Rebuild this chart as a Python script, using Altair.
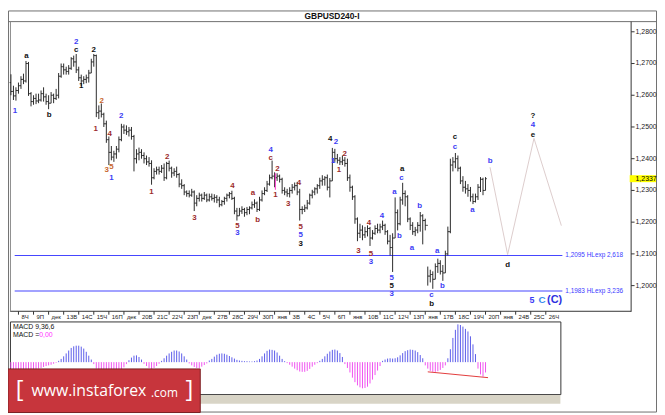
import altair as alt
import pandas as pd

W, H = 657, 407
SX, SY = W / 665.0, H / 415.0


def X(v):
    return round(v * SX, 2)


def Y(v):
    return round(v * SY, 2)


# ---------------- data ----------------
highs = [1.2666, 1.2630, 1.2625, 1.2640, 1.2660, 1.2668, 1.2708, 1.2705, 1.2610, 1.2600,
         1.2605, 1.2605, 1.2615, 1.2625, 1.2605, 1.2600, 1.2610, 1.2605, 1.2620, 1.2670,
         1.2700, 1.2700, 1.2690, 1.2695, 1.2720, 1.2725, 1.2730, 1.2690, 1.2665, 1.2660,
         1.2665, 1.2680, 1.2715, 1.2730, 1.2728, 1.2568, 1.2574, 1.2545, 1.2520, 1.2470,
         1.2440, 1.2425, 1.2440, 1.2470, 1.2510, 1.2508, 1.2505, 1.2500, 1.2500, 1.2475,
         1.2430, 1.2435, 1.2430, 1.2420, 1.2410, 1.2405, 1.2395, 1.2370, 1.2375, 1.2375,
         1.2380, 1.2385, 1.2390, 1.2394, 1.2375, 1.2370, 1.2375, 1.2355, 1.2335, 1.2320,
         1.2300, 1.2300, 1.2305, 1.2300, 1.2285, 1.2293, 1.2290, 1.2295, 1.2290, 1.2290,
         1.2290, 1.2288, 1.2285, 1.2280, 1.2270, 1.2280, 1.2290, 1.2295, 1.2299, 1.2280,
         1.2245, 1.2245, 1.2250, 1.2245, 1.2248, 1.2250, 1.2265, 1.2272, 1.2265, 1.2280,
         1.2300, 1.2310, 1.2330, 1.2350, 1.2394, 1.2357, 1.2354, 1.2350, 1.2340, 1.2310,
         1.2305, 1.2310, 1.2320, 1.2325, 1.2327, 1.2305, 1.2250, 1.2255, 1.2270, 1.2290,
         1.2302, 1.2310, 1.2320, 1.2340, 1.2348, 1.2345, 1.2350, 1.2339, 1.2434, 1.2431,
         1.2415, 1.2405, 1.2410, 1.2405, 1.2400, 1.2350, 1.2315, 1.2285, 1.2215, 1.2195,
         1.2190, 1.2185, 1.2190, 1.2185, 1.2175, 1.2190, 1.2195, 1.2195, 1.2205, 1.2195,
         1.2175, 1.2160, 1.2165, 1.2278, 1.2240, 1.2280, 1.2324, 1.2300, 1.2285, 1.2215,
         1.2200, 1.2185, 1.2200, 1.2232, 1.2225, 1.2211, 1.2060, 1.2050, 1.2045, 1.2070,
         1.2085, 1.2080, 1.2065, 1.2110, 1.2186, 1.2400, 1.2405, 1.2418, 1.2410, 1.2375,
         1.2345, 1.2330, 1.2320, 1.2311, 1.2290, 1.2290, 1.2320, 1.2342, 1.2340, 1.2342]
lows = [1.2600, 1.2585, 1.2583, 1.2605, 1.2620, 1.2635, 1.2640, 1.2598, 1.2565, 1.2570,
        1.2572, 1.2575, 1.2580, 1.2580, 1.2570, 1.2556, 1.2575, 1.2575, 1.2585, 1.2590,
        1.2655, 1.2665, 1.2665, 1.2665, 1.2680, 1.2690, 1.2670, 1.2645, 1.2629, 1.2635,
        1.2638, 1.2640, 1.2670, 1.2690, 1.2531, 1.2525, 1.2530, 1.2500, 1.2450, 1.2380,
        1.2395, 1.2390, 1.2400, 1.2420, 1.2455, 1.2478, 1.2475, 1.2470, 1.2460, 1.2360,
        1.2385, 1.2395, 1.2400, 1.2385, 1.2380, 1.2375, 1.2318, 1.2335, 1.2350, 1.2350,
        1.2355, 1.2330, 1.2335, 1.2360, 1.2340, 1.2345, 1.2340, 1.2310, 1.2305, 1.2285,
        1.2280, 1.2278, 1.2280, 1.2235, 1.2250, 1.2265, 1.2265, 1.2270, 1.2263, 1.2265,
        1.2268, 1.2262, 1.2260, 1.2247, 1.2250, 1.2255, 1.2265, 1.2275, 1.2270, 1.2225,
        1.2205, 1.2220, 1.2226, 1.2217, 1.2222, 1.2225, 1.2240, 1.2245, 1.2232, 1.2235,
        1.2265, 1.2285, 1.2295, 1.2315, 1.2335, 1.2310, 1.2330, 1.2325, 1.2290, 1.2285,
        1.2280, 1.2278, 1.2290, 1.2300, 1.2285, 1.2205, 1.2225, 1.2232, 1.2240, 1.2255,
        1.2275, 1.2285, 1.2290, 1.2305, 1.2315, 1.2315, 1.2300, 1.2278, 1.2330, 1.2390,
        1.2385, 1.2380, 1.2380, 1.2375, 1.2330, 1.2296, 1.2270, 1.2195, 1.2140, 1.2150,
        1.2143, 1.2150, 1.2155, 1.2125, 1.2145, 1.2160, 1.2165, 1.2165, 1.2175, 1.2160,
        1.2130, 1.2095, 1.2043, 1.2150, 1.2174, 1.2190, 1.2255, 1.2250, 1.2200, 1.2175,
        1.2160, 1.2156, 1.2165, 1.2170, 1.2130, 1.2174, 1.2000, 1.2010, 1.1990, 1.2020,
        1.2040, 1.2035, 1.2015, 1.2040, 1.2095, 1.2165, 1.2360, 1.2370, 1.2360, 1.2320,
        1.2296, 1.2290, 1.2280, 1.2265, 1.2257, 1.2262, 1.2270, 1.2295, 1.2285, 1.2300]
closes = [1.2612, 1.2598, 1.2615, 1.2630, 1.2650, 1.2645, 1.2700, 1.2605, 1.2580, 1.2590,
          1.2582, 1.2585, 1.2605, 1.2595, 1.2580, 1.2575, 1.2600, 1.2590, 1.2600, 1.2660,
          1.2690, 1.2680, 1.2675, 1.2685, 1.2715, 1.2705, 1.2680, 1.2655, 1.2645, 1.2650,
          1.2655, 1.2670, 1.2705, 1.2725, 1.2545, 1.2550, 1.2540, 1.2510, 1.2460, 1.2420,
          1.2405, 1.2415, 1.2430, 1.2460, 1.2500, 1.2490, 1.2485, 1.2490, 1.2470, 1.2400,
          1.2415, 1.2420, 1.2410, 1.2400, 1.2390, 1.2385, 1.2340, 1.2360, 1.2365, 1.2360,
          1.2370, 1.2340, 1.2385, 1.2370, 1.2355, 1.2360, 1.2350, 1.2320, 1.2315, 1.2295,
          1.2290, 1.2285, 1.2295, 1.2260, 1.2275, 1.2285, 1.2275, 1.2285, 1.2270, 1.2280,
          1.2275, 1.2278, 1.2270, 1.2255, 1.2265, 1.2275, 1.2285, 1.2290, 1.2275, 1.2235,
          1.2220, 1.2235, 1.2240, 1.2230, 1.2240, 1.2245, 1.2255, 1.2260, 1.2240, 1.2270,
          1.2290, 1.2300, 1.2320, 1.2340, 1.2345, 1.2340, 1.2345, 1.2335, 1.2300, 1.2295,
          1.2290, 1.2300, 1.2310, 1.2315, 1.2295, 1.2240, 1.2240, 1.2245, 1.2260, 1.2285,
          1.2295, 1.2305, 1.2315, 1.2330, 1.2335, 1.2340, 1.2310, 1.2330, 1.2420, 1.2400,
          1.2395, 1.2390, 1.2395, 1.2385, 1.2340, 1.2310, 1.2280, 1.2210, 1.2165, 1.2175,
          1.2160, 1.2170, 1.2180, 1.2150, 1.2165, 1.2180, 1.2175, 1.2185, 1.2190, 1.2170,
          1.2140, 1.2120, 1.2150, 1.2230, 1.2195, 1.2270, 1.2290, 1.2280, 1.2210, 1.2190,
          1.2170, 1.2175, 1.2190, 1.2220, 1.2205, 1.2190, 1.2030, 1.2035, 1.2020, 1.2060,
          1.2070, 1.2045, 1.2040, 1.2100, 1.2170, 1.2380, 1.2390, 1.2400, 1.2370, 1.2330,
          1.2310, 1.2305, 1.2300, 1.2280, 1.2265, 1.2280, 1.2310, 1.2335, 1.2300, 1.2337]
first_open = 1.2640

macd = [-20, -22, -25, -27, -28, -28, -27, -25, -23, -22, -21, -20, -18, -15, -12, -10, -8, -5, -2,
        4, 10, 18, 27, 36, 44, 49, 51, 51, 48, 42, 32, 20, 8,
        -6, -20, -38, -52, -62, -68, -70, -68, -62, -52, -40, -28, -16, -6,
        6, 14, 20, 21, 16, 8,
        -5, -12, -18, -21, -18, -12, -5,
        4, 12, 20, 27, 32, 36, 36, 33, 27, 18, 8,
        -4, -10, -15, -18, -18, -14, -9, -4,
        5, 10, 17, 23, 26, 27, 26, 23, 19, 15, 11, 7,
        5, 4, 3, 3, 2, 2, 3, 5,
        10, 18, 27, 35, 39, 38, 36, 30, 20, 10, 3,
        -3, -8, -14, -20, -25, -29, -30, -30, -27, -21, -14, -8, -3,
        4, 10, 18, 26, 33, 38, 39, 36, 28, 16,
        -6, -18, -32, -48, -62, -72, -78, -81, -80, -76, -66, -54, -40, -26, -12,
        4, 8, 11, 12, 11, 12, 15, 21, 28, 34, 37, 39, 38, 36, 31, 22, 12,
        -10, -20, -27, -30, -30, -28, -24, -18, -10,
        12, 40, 75, 100, 117, 115, 110, 103, 95, 80, 55, 25,
        -20, -38, -45, -32]

price_ticks = [1.2800, 1.2700, 1.2600, 1.2500, 1.2400, 1.2300, 1.2200, 1.2100, 1.2000]
day_labels = ["8Ч", "9П", "дек", "13В", "14С", "15Ч", "16П", "дек", "20В", "21С", "22Ч", "23П",
              "дек", "27В", "28С", "29Ч", "30П", "янв", "3В", "4С", "5Ч", "6П", "янв", "10В",
              "11С", "12Ч", "13П", "янв", "17В", "18С", "19Ч", "20П", "янв", "24В", "25С", "26Ч"]
first_day_bar = 3
bars_per_day = 6

levels = [1.2095, 1.1983]
level_texts = ["1,2095 HLexp 2,618", "1,1983 HLexp 3,236"]
level_from_bar, level_to_bar = 1.5, 219.6

proj_bar = [190.8, 197.8, 208.3, 219.2]
proj_price = [1.2373, 1.2098, 1.2464, 1.2189]
last_price = 1.2337

div_bar = [166, 190]
div_macd = [-30, -48]
pink_bar, pink_lo, pink_hi = 105.3, 1.2302, 1.2354

BLUE, RED, ORG, BLK = "#3c3cf5", "#9c2b2b", "#c8662e", "#111111"
wave_bar = [1.6, 6.2, 15.2, 26.0, 26.0, 28.0, 33.0, 36.1, 33.8, 39.3, 38.1, 40.0, 40.0, 43.9,
            56.0, 62.2, 73.1, 88.2, 90.2, 90.2, 96.4, 98.3, 103.4, 103.4, 106.1, 105.3, 110.4,
            114.7, 115.4, 115.4, 115.4, 127.1, 129.4, 128.3, 132.9, 130.6, 138.4, 142.6, 143.4,
            143.4, 147.7, 151.6, 151.6, 151.6, 152.7, 154.7, 155.5, 155.8, 159.7, 162.8, 167.5,
            167.5, 169.8, 171.8, 176.8, 176.8, 183.8, 190.8, 197.8, 207.9, 207.9, 207.9]
wave_price = [1.2550, 1.2724, 1.2537, 1.2769, 1.2742, 1.2629, 1.2742, 1.2583, 1.2495, 1.2479,
              1.2363, 1.2373, 1.2339, 1.2534, 1.2296, 1.2406, 1.2214, 1.2315, 1.2189, 1.2165,
              1.2293, 1.2208, 1.2403, 1.2427, 1.2369, 1.2284, 1.2257, 1.2324, 1.2186, 1.2159,
              1.2131, 1.2461, 1.2452, 1.2394, 1.2415, 1.2363, 1.2110, 1.2198, 1.2098, 1.2073,
              1.2220, 1.2024, 1.2000, 1.1973, 1.2296, 1.2156, 1.2339, 1.2369, 1.2119, 1.2250,
              1.1969, 1.1942, 1.2110, 1.2000, 1.2437, 1.2467, 1.2238, 1.2394, 1.2064, 1.2476,
              1.2507, 1.2534]
wave_text = ["1", "a", "b", "2", "c", "1", "2", "2", "1", "4", "3", "5", "1", "2",
             "1", "2", "3", "4", "5", "3", "a", "b", "c", "4", "2", "1", "3",
             "4", "5", "5", "3", "4", "2", "1", "2", "1", "3", "4", "5",
             "3", "4", "5", "5", "3", "a", "b", "c", "a", "a", "b", "c",
             "b", "a", "b", "c", "c", "a", "b", "d", "e", "4", "?"]
wave_color = [BLUE, BLK, BLK, BLUE, BLK, BLK, BLK, ORG, RED, RED, ORG, ORG, BLUE, BLUE,
              RED, RED, RED, RED, RED, BLUE, RED, RED, RED, BLUE, RED, RED, RED,
              RED, RED, BLUE, BLK, BLK, BLUE, BLUE, RED, RED, RED, RED, RED,
              BLUE, BLUE, BLUE, BLK, BLUE, BLUE, BLUE, BLUE, BLK, BLUE, BLUE, BLUE,
              BLK, BLUE, BLUE, BLUE, BLK, BLUE, BLUE, BLK, BLK, BLUE, BLK]
corner_bar = [207.5, 211.5, 216.5]
corner_price = [1.1954, 1.1954, 1.1954]
corner_text = ["5", "C", "(C)"]

# ---------------- tables ----------------
n = len(closes)
opens = [first_open] + closes[:-1]
bars = pd.DataFrame({"j": list(range(n)), "h": highs, "l": lows, "o": opens, "c": closes})
mdf = pd.DataFrame({"j": list(range(n)), "m": macd, "z": [0] * n,
                    "col": ["#5b5bea" if v >= 0 else "#f052f0" for v in macd]})
ticks = pd.DataFrame({"p": price_ticks,
                      "t": [f"{v:.4f}".replace(".", ",") for v in price_ticks]})
days = pd.DataFrame({"j": [first_day_bar + bars_per_day * k for k in range(len(day_labels))],
                     "t": day_labels})
lv = pd.DataFrame({"p": levels, "t": level_texts, "a": [level_from_bar] * 2,
                   "b": [level_to_bar] * 2})
proj = pd.DataFrame({"j": proj_bar, "p": proj_price, "k": range(len(proj_bar))})
waves = pd.DataFrame({"j": wave_bar, "p": wave_price, "t": wave_text, "col": wave_color})
corner = pd.DataFrame({"j": corner_bar, "p": corner_price, "t": corner_text,
                       "col": [BLUE, "#3a8cf0", "#2f2fe0"], "s": [9, 10, 11]})
cur = pd.DataFrame({"p": [last_price], "lo": [last_price - 0.0011], "hi": [last_price + 0.0011],
                    "t": [f"{last_price:.4f}".replace(".", ",")]})
div = pd.DataFrame({"j": div_bar, "m": div_macd})
pink = pd.DataFrame({"j": [pink_bar], "lo": [pink_lo], "hi": [pink_hi]})
one = pd.DataFrame({"a": [0]})

xs = alt.Scale(domain=[-3 / 2.573, 662 / 2.573], range=[0, W], nice=False, zero=False)
ys = alt.Scale(domain=[1.16, 1.286717], range=[H, 0], nice=False, zero=False)
ms = alt.Scale(domain=[-156, 1089], range=[H, 0], nice=False, zero=False)

FONT = "Liberation Sans"


def box(x1, x2, y1, y2, fill="white", stroke=None, sw=1):
    kw = {"fill": fill}
    if stroke:
        kw.update(stroke=stroke, strokeWidth=sw)
    return alt.Chart(one).mark_rect(**kw).encode(
        x=alt.value(X(x1)), x2=alt.value(X(x2)), y=alt.value(Y(y1)), y2=alt.value(Y(y2)))


def hline(x1, x2, y, color="#555", sw=1):
    return alt.Chart(one).mark_rule(color=color, strokeWidth=sw).encode(
        x=alt.value(X(x1)), x2=alt.value(X(x2)), y=alt.value(Y(y)))


def vline(x, y1, y2, color="#555", sw=1):
    return alt.Chart(one).mark_rule(color=color, strokeWidth=sw).encode(
        x=alt.value(X(x)), y=alt.value(Y(y1)), y2=alt.value(Y(y2)))


def label(x, y, t, size=7, color="#111", weight="normal", align="left", font=FONT):
    return alt.Chart(one).mark_text(text=t, fontSize=size, color=color, fontWeight=weight,
                                    align=align, baseline="middle", font=font).encode(
        x=alt.value(X(x)), y=alt.value(Y(y)))


layers = []
layers.append(box(0, 665, 0, 415, fill="white"))
# frame
layers.append(box(0.5, 664.5, 0.5, 414.5, fill="white", stroke="#6e6e6e"))
layers.append(hline(0, 665, 11.5, "#6e6e6e"))
layers.append(label(332, 6, "GBPUSD240-I", size=8.5, weight="bold", align="center"))
layers.append(vline(638.5, 11.5, 311, "#333"))
layers.append(hline(2, 638.5, 310.5, "#333"))
layers.append(vline(2.5, 11.5, 311, "#888"))

# levels
layers.append(alt.Chart(lv).mark_rule(color="#4646ff", strokeWidth=1.2).encode(
    x=alt.X("a:Q", scale=xs, axis=None), x2="b:Q", y=alt.Y("p:Q", scale=ys, axis=None)))
layers.append(alt.Chart(lv).mark_text(fontSize=6.5, color="#3a3aff", align="left",
                                      baseline="middle", font=FONT, dx=3).encode(
    x=alt.X("b:Q", scale=xs, axis=None), y=alt.Y("p:Q", scale=ys, axis=None), text="t:N"))

# projection
layers.append(alt.Chart(proj).mark_line(color="#dccccc", strokeWidth=1).encode(
    x=alt.X("j:Q", scale=xs, axis=None), y=alt.Y("p:Q", scale=ys, axis=None), order="k:Q"))

# OHLC bars
BARC = "#2a2a2a"
layers.append(alt.Chart(bars).mark_rule(color=BARC, strokeWidth=1).encode(
    x=alt.X("j:Q", scale=xs, axis=None), y=alt.Y("l:Q", scale=ys, axis=None), y2="h:Q"))
layers.append(alt.Chart(bars).mark_rule(color=BARC, strokeWidth=1, xOffset=-1.3).encode(
    x=alt.X("j:Q", scale=xs, axis=None), x2=alt.X2("j:Q"), y=alt.Y("o:Q", scale=ys, axis=None)))
layers.append(alt.Chart(bars).mark_rule(color=BARC, strokeWidth=1, x2Offset=1.3).encode(
    x=alt.X("j:Q", scale=xs, axis=None), x2=alt.X2("j:Q"), y=alt.Y("c:Q", scale=ys, axis=None)))
layers.append(alt.Chart(pink).mark_rule(color="#ff33cc", strokeWidth=1).encode(
    x=alt.X("j:Q", scale=xs, axis=None), y=alt.Y("lo:Q", scale=ys, axis=None), y2="hi:Q"))

# wave labels
layers.append(alt.Chart(waves).mark_text(fontSize=8, fontWeight="bold", font=FONT,
                                         baseline="middle", align="center").encode(
    x=alt.X("j:Q", scale=xs, axis=None), y=alt.Y("p:Q", scale=ys, axis=None), text="t:N",
    color=alt.Color("col:N", scale=None)))
layers.append(alt.Chart(corner).mark_text(fontWeight="bold", font=FONT,
                                          baseline="middle", align="center").encode(
    x=alt.X("j:Q", scale=xs, axis=None), y=alt.Y("p:Q", scale=ys, axis=None), text="t:N",
    color=alt.Color("col:N", scale=None), size=alt.Size("s:Q", scale=None)))

# price axis
layers.append(alt.Chart(ticks).mark_rule(color="#333", strokeWidth=1).encode(
    x=alt.value(X(638.5)), x2=alt.value(X(642)), y=alt.Y("p:Q", scale=ys, axis=None)))
layers.append(alt.Chart(ticks).mark_text(fontSize=7, color="#222", align="left",
                                         baseline="middle", font=FONT).encode(
    x=alt.value(X(643)), y=alt.Y("p:Q", scale=ys, axis=None), text="t:N"))
layers.append(alt.Chart(cur).mark_rect(color="#ffff00").encode(
    x=alt.value(X(637)), x2=alt.value(X(664)), y=alt.Y("lo:Q", scale=ys, axis=None), y2="hi:Q"))
layers.append(alt.Chart(cur).mark_text(fontSize=7, color="#000", align="left",
                                       baseline="middle", font=FONT).encode(
    x=alt.value(X(643)), y=alt.Y("p:Q", scale=ys, axis=None), text="t:N"))

# date axis
layers.append(alt.Chart(days).mark_rule(color="#333", strokeWidth=1).encode(
    x=alt.X("j:Q", scale=xs, axis=None), y=alt.value(Y(310.5)), y2=alt.value(Y(314))))
layers.append(alt.Chart(days).mark_text(fontSize=6, color="#222", align="left",
                                        baseline="middle", font=FONT, dx=3).encode(
    x=alt.X("j:Q", scale=xs, axis=None), y=alt.value(Y(316.5)), text="t:N"))

# MACD panel
layers.append(box(2.5, 566.5, 321.5, 396.5, fill="white", stroke="#333"))
layers.append(box(3, 566, 397, 406, fill="#d8d4c6"))
layers.append(alt.Chart(mdf).mark_rule(strokeWidth=1).encode(
    x=alt.X("j:Q", scale=xs, axis=None), y=alt.Y("z:Q", scale=ms, axis=None), y2="m:Q",
    color=alt.Color("col:N", scale=None)))
layers.append(alt.Chart(div).mark_line(color="#e23a3a", strokeWidth=1).encode(
    x=alt.X("j:Q", scale=xs, axis=None), y=alt.Y("m:Q", scale=ms, axis=None)))
layers.append(label(5, 327, "MACD 9,36,6", size=7))
layers.append(label(5, 335, "MACD =", size=7))
layers.append(label(32, 335, "0,00", size=7, color="#ff33ff"))

# watermark
layers.append(box(0, 197, 370, 415, fill="#c7353c", stroke="#7a1e22"))
layers.append(label(8, 392, "[", size=24, color="white", font="Open Sans"))
layers.append(label(24, 393, "www.instaforex", size=16, color="white", font="Open Sans"))
layers.append(label(146.5, 395, ".com", size=12, color="white", font="Open Sans"))
layers.append(label(182, 392, "]", size=24, color="white", font="Open Sans"))

chart = alt.layer(*layers).resolve_scale(y="independent").properties(
    width=W, height=H, autosize=alt.AutoSizeParams(type="none"), padding=0
).configure_view(strokeWidth=0)

chart.save("out.html", embed_options={"renderer": "svg", "actions": False})
